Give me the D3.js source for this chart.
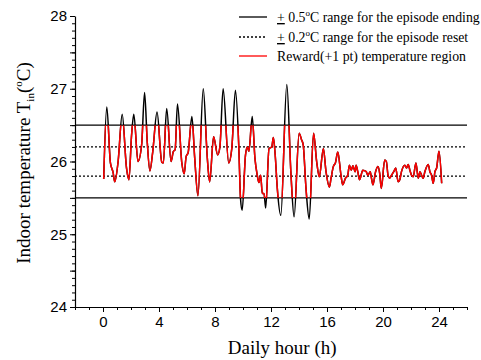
<!DOCTYPE html>
<html><head><meta charset="utf-8">
<script src="https://cdn.jsdelivr.net/npm/d3@7"></script>
<style>body{margin:0;background:#fff}</style>
</head><body>
<svg id="c" width="481" height="360"></svg>
<script>
const hours = [0.05,0.27,0.53,0.72,0.84,1.08,1.37,1.68,1.85,2.04,2.2,2.5,2.76,2.97,3.16,3.35,3.55,3.86,4.2,4.31,4.55,4.86,5.03,5.15,5.32,5.63,5.8,5.94,6.08,6.35,6.55,6.78,7.16,7.45,7.62,7.9,8.19,8.35,8.58,8.98,9.2,9.46,9.7,9.82,9.94,10.18,10.3,10.42,10.66,10.85,11.02,11.14,11.26,11.38,11.5,11.62,11.86,12.05,12.17,12.3,12.45,12.7,13.13,13.42,13.65,14.01,14.18,14.3,14.5,14.73,15.04,15.26,15.45,15.74,15.93,16.17,16.29,16.45,16.6,16.77,17.0,17.12,17.32,17.48,17.6,17.73,17.85,18.01,18.08,18.2,18.32,18.56,18.8,18.92,19.09,19.16,19.28,19.47,19.64,19.76,19.88,20.12,20.24,20.36,20.48,20.6,20.77,20.91,21.08,21.2,21.32,21.56,21.68,21.8,21.92,22.04,22.16,22.35,22.52,22.64,22.76,22.87,22.99,23.23,23.35,23.47,23.59,23.71,23.83,24.0,24.19];
const temps = [25.76,26.75,25.98,25.85,25.72,26.0,26.65,25.91,25.75,26.36,26.65,26.0,26.23,26.95,26.27,25.87,26.13,26.68,25.99,25.98,26.73,26.0,26.14,26.16,26.79,25.98,25.83,26.07,26.12,26.62,26.05,25.53,27.0,26.05,25.72,26.34,26.09,26.2,27.0,25.98,26.18,26.98,26.2,25.5,25.33,26.09,26.2,26.14,26.62,26.05,25.81,25.71,25.81,25.56,25.56,25.36,26.18,26.2,26.33,26.09,25.63,25.26,27.06,25.85,25.24,26.39,26.3,26.23,25.63,25.21,26.39,26.0,25.79,26.18,25.86,25.65,25.77,25.93,25.98,26.13,25.81,25.68,25.77,25.81,25.95,25.88,25.94,25.86,25.95,25.86,25.75,25.88,25.86,25.81,25.86,25.79,25.68,25.86,25.93,25.84,25.63,26.02,26.0,25.81,25.77,25.81,25.86,25.91,25.72,25.75,25.86,25.95,25.91,25.96,25.88,25.81,25.79,25.98,25.77,25.86,25.81,25.77,25.86,25.96,25.86,25.81,25.7,25.86,25.91,26.14,25.7];
const endingRange = [25.5, 26.5];
const resetRange = [25.8, 26.2];
const xTicks = [0,4,8,12,16,20,24];
const yTicks = [24,25,26,27,28];
const legendLabels = ["range for the episode ending","range for the episode reset","Reward(+1 pt) temperature region"];

const svg = d3.select("#c");
const x = d3.scaleLinear().domain([-2,26]).range([75,467]);
const y = d3.scaleLinear().domain([24,28]).range([307,16]);

// minor ticks
const gx = svg.append("g").attr("transform","translate(0,307)");
gx.call(d3.axisBottom(x).tickValues(d3.range(-2,27,1)).tickSize(3).tickFormat(""));
gx.call(g=>g.select(".domain").remove());
const gx2 = svg.append("g").attr("transform","translate(0,307)")
  .call(d3.axisBottom(x).tickValues(xTicks).tickSize(5).tickPadding(4).tickSizeOuter(0).tickFormat(d3.format("d")));
gx2.selectAll("text").attr("font-family","Liberation Sans, Arial").attr("font-size",15).attr("fill","#000");

const gy = svg.append("g").attr("transform","translate(75,0)");
gy.call(d3.axisLeft(y).tickValues(d3.range(0,41).map(i=>24+i*0.1)).tickSize(3).tickFormat(""));
gy.call(g=>g.select(".domain").remove());
const gyMid = svg.append("g").attr("transform","translate(75,0)")
  .call(d3.axisLeft(y).tickValues([24.5,25.5,26.5,27.5]).tickSize(5).tickFormat(""));
gyMid.select(".domain").remove();
const gy2 = svg.append("g").attr("transform","translate(75,0)")
  .call(d3.axisLeft(y).tickValues(yTicks).tickSize(5).tickPadding(3).tickSizeOuter(0).tickFormat(d3.format("d")));
gy2.selectAll("text").attr("font-family","Liberation Sans, Arial").attr("font-size",15).attr("fill","#000");
svg.selectAll(".domain").attr("stroke","#000").attr("stroke-width",1.2);
svg.selectAll(".tick line").attr("stroke","#000");

// reference lines
endingRange.forEach(v=>svg.append("line").attr("x1",x(-2)).attr("x2",x(26)).attr("y1",y(v)).attr("y2",y(v)).attr("stroke","#000").attr("stroke-width",1.3));
resetRange.forEach(v=>svg.append("line").attr("x1",x(-2)).attr("x2",x(26)).attr("y1",y(v)).attr("y2",y(v)).attr("stroke","#000").attr("stroke-width",1.3).attr("stroke-dasharray","2,2"));

// data
const data = hours.map((h,i)=>[h,temps[i]]);
const line = d3.line().x(d=>x(d[0])).y(d=>y(d[1])).curve(d3.curveMonotoneX);
svg.append("defs").append("clipPath").attr("id","band").append("rect")
  .attr("x",x(-2)).attr("width",x(26)-x(-2)).attr("y",y(endingRange[1])).attr("height",y(endingRange[0])-y(endingRange[1]));
svg.append("path").datum(data).attr("d",line).attr("fill","none").attr("stroke","#000").attr("stroke-width",1.5);
svg.append("path").datum(data).attr("d",line).attr("fill","none").attr("stroke","#ff0000").attr("stroke-width",1.5).attr("clip-path","url(#band)");

// legend
const lg = svg.append("g").attr("font-family","Liberation Serif, Times New Roman").attr("font-size",13.8);
const rows = [{y:17,color:"#000",dash:null,pm:"0.5"},{y:37,color:"#000",dash:"2,2",pm:"0.2"},{y:56,color:"#ff0000",dash:null,pm:null}];
rows.forEach((r,i)=>{
  lg.append("line").attr("x1",239).attr("x2",267).attr("y1",r.y).attr("y2",r.y).attr("stroke",r.color).attr("stroke-width",1.3).attr("stroke-dasharray",r.dash);
  const t = lg.append("text").attr("x",277).attr("y",r.y+5);
  if(r.pm){
    t.append("tspan").attr("text-decoration","underline").text("+");
    t.append("tspan").text(" "+r.pm);
    t.append("tspan").attr("font-size",9).attr("dy",-6).text("o");
    t.append("tspan").attr("dy",6).text("C "+legendLabels[i]);
  } else {
    t.text(legendLabels[i]);
  }
});

// axis titles
svg.append("text").attr("x",x(12.8)).attr("y",354).attr("text-anchor","middle")
  .attr("font-family","Liberation Serif, Times New Roman").attr("font-size",19).text("Daily hour (h)");
const yt = svg.append("text").attr("transform","translate(30,163) rotate(-90)").attr("text-anchor","middle")
  .attr("font-family","Liberation Serif, Times New Roman").attr("font-size",19);
yt.append("tspan").text("Indoor temperature  T");
yt.append("tspan").attr("font-size",11).attr("dy",4).text("in");
yt.append("tspan").attr("dy",-4).text("(");
yt.append("tspan").attr("font-size",11).attr("dy",-8).text("o");
yt.append("tspan").attr("dy",8).text("C)");
</script>
</body></html>
